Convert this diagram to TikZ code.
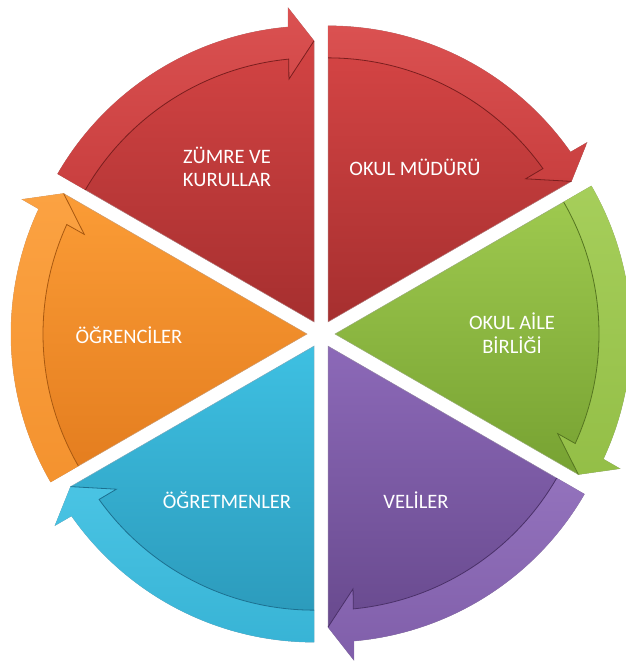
\documentclass[tikz,border=0pt]{standalone}
\usepackage{fontspec}
\setmainfont{Carlito}
\definecolor{redA}{HTML}{D84646}
\definecolor{redB}{HTML}{A62F2F}
\definecolor{redD}{HTML}{7A1E1E}
\definecolor{grnA}{HTML}{A0CB50}
\definecolor{grnB}{HTML}{77A232}
\definecolor{grnD}{HTML}{557520}
\definecolor{vioA}{HTML}{8C69B8}
\definecolor{vioB}{HTML}{644689}
\definecolor{vioD}{HTML}{4A3068}
\definecolor{bluA}{HTML}{3EC0E2}
\definecolor{bluB}{HTML}{2A97B8}
\definecolor{bluD}{HTML}{1C7090}
\definecolor{orgA}{HTML}{FB9C36}
\definecolor{orgB}{HTML}{E37C1E}
\definecolor{orgD}{HTML}{A85810}

\begin{document}
\begin{tikzpicture}[x=1pt,y=1pt,
  lbl/.style={text=white,font=\fontsize{20.5}{24}\selectfont,anchor=base,inner sep=0pt}]
\useasboundingbox (0,0) rectangle (626,-661);
\clip (0,0) rectangle (626,-661);
\coordinate (ctr) at (321,-334);
% one wedge per step: clockwise edge / light / dark / rim colour
\foreach \a/\ca/\cb/\cd in {30/redA/redB/redD, 90/redA/redB/redD, 150/orgA/orgB/orgD,
    210/bluA/bluB/bluD, 270/vioA/vioB/vioD, 330/grnA/grnB/grnD}{
  \begin{scope}[shift={(ctr)},shift={(\a+30:14)}]
    \shade[top color=\ca,bottom color=\cb,draw=\cd!60,line width=0.5pt] (0,0) -- (\a+60:296)
      arc[start angle=\a+60,end angle=\a+5,radius=296] -- (\a+4.7:315) -- (\a:281) -- cycle;
    % raised arrow band
    \shade[top color=\ca!94!white,bottom color=\ca!70!\cb] (\a+60:296)
      arc[start angle=\a+60,end angle=\a+5,radius=296] -- (\a+4.7:315) -- (\a:281)
      -- (\a+5.9:244) -- (\a+5.5:264) arc[start angle=\a+5.5,end angle=\a+60,radius=264] -- cycle;
    \draw[\cd,line width=0.8pt] (\a+60:264) arc[start angle=\a+60,end angle=\a+5.5,radius=264]
      -- (\a+5.9:244) -- (\a:281);
  \end{scope}
}
\node[lbl] (zumreA) at (227,-163) {ZÜMRE VE};
\node[lbl] (zumreB) at (227,-186.5) {KURULLAR};
\node[lbl] (mudur) at (415,-175) {OKUL MÜDÜRÜ};
\node[lbl] (aileA) at (512,-329) {OKUL AİLE};
\node[lbl] (aileB) at (512,-353) {BİRLİĞİ};
\node[lbl] (veli) at (416,-508) {VELİLER};
\node[lbl] (ogretmen) at (227,-508) {ÖĞRETMENLER};
\node[lbl] (ogrenci) at (129,-343) {ÖĞRENCİLER};
\end{tikzpicture}
\end{document}
